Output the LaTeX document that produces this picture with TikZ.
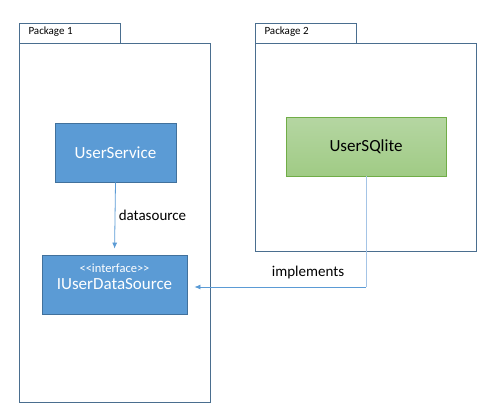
\documentclass[tikz,border=0pt]{standalone}
\usepackage{fontspec}
\setmainfont{Carlito}
\usetikzlibrary{arrows.meta}

\definecolor{pkgline}{HTML}{4A6E8F}
\definecolor{bluefill}{HTML}{5B9BD5}
\definecolor{blueline}{HTML}{41719C}
\definecolor{greentop}{HTML}{B5D6A2}
\definecolor{greenbot}{HTML}{A0CB85}
\definecolor{greenline}{HTML}{70AD47}
\definecolor{connlight}{HTML}{A4C4E6}

\tikzset{
  pkg/.style={draw=pkgline, line width=0.8pt},
  classbox/.style={draw=blueline, fill=bluefill, text=white, line width=0.8pt,
    minimum height=59pt, align=center, font=\fontsize{17}{18}\selectfont},
  implbox/.style={draw=greenline, top color=greentop, bottom color=greenbot,
    line width=0.8pt, minimum height=59pt, font=\fontsize{17}{18}\selectfont},
  conn/.style={draw=bluefill, line width=0.8pt},
  tip/.style={-{Latex[length=6pt,width=5pt]}},
  lbl/.style={font=\fontsize{15}{16}\selectfont},
  pkglbl/.style={anchor=west, font=\fontsize{11}{12}\selectfont}
}

\begin{document}
\begin{tikzpicture}[x=1pt, y=-1pt]
  \useasboundingbox (0,0) rectangle (490,415);

  % package 1
  \draw[pkg] (19,23) rectangle (120,43);
  \draw[pkg] (19,43) rectangle (210,402);
  \node[pkglbl] (pkgone) at (25,32) {Package 1};

  % package 2
  \draw[pkg] (255,23) rectangle (356,43);
  \draw[pkg] (255,43) rectangle (476,251);
  \node[pkglbl] (pkgtwo) at (261,32) {Package 2};

  % classes
  \node[classbox, minimum width=145pt] (source) at (114.5,284.5)
    {{\fontsize{12.5}{13}\selectfont {<}{<}interface{>}{>}}\\[-1.5pt]IUserDataSource\\[-2pt]};
  \node[classbox, minimum width=121pt] (service) at (115.5,152.5) {UserService};
  \node[implbox, minimum width=160pt] (sqlite) at (366,146.5) {UserSQlite};

  % connectors
  \draw[conn, tip, shorten >=6pt] (service.south) -- (source.north)
    node[lbl, pos=0.45, anchor=west] (dslabel) {datasource};

  \coordinate (bend) at (sqlite.south |- 0,287);
  \draw[conn, draw=connlight] (sqlite.south) -- (bend);
  \draw[conn, tip, shorten >=7pt] (bend) -- (bend -| source.east);
  \node[lbl] (impllabel) at (308,272) {implements};
\end{tikzpicture}
\end{document}
